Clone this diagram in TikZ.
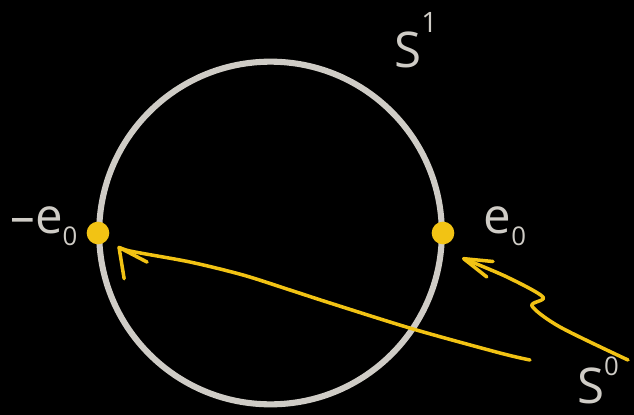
\documentclass[tikz,border=0pt]{standalone}
\usepackage{fontspec}
\setsansfont{Open Sans}
\usetikzlibrary{arrows.meta}
\definecolor{Chalk}{HTML}{CFCCC6}
\definecolor{Gold}{HTML}{F2C314}
\newcommand\subzero{\raisebox{-0.25em}{\fontsize{22}{22}\selectfont 0}}
\newcommand\supzero{\raisebox{0.55em}{\fontsize{22}{22}\selectfont 0}}
\newcommand\supone{\raisebox{0.7em}{\fontsize{24}{24}\selectfont 1}}

\begin{document}
\begin{tikzpicture}[
  x=0.03cm, y=-0.03cm,
  chalk/.style={draw=Chalk, line width=5.2pt},
  dot/.style={circle, fill=Gold, minimum size=0.68cm, inner sep=0pt},
  ray/.style={draw=Gold, line width=3pt, line cap=round, line join=round},
  lbl/.style={text=Chalk, font=\sffamily\fontsize{42}{42}\selectfont, inner sep=0pt}
]
\fill[black] (0,0) rectangle (634,415);

% the circle and its two points
\coordinate (ctr) at (270.5,233);
\draw[chalk] (ctr) circle[radius=5.14cm];
\node[dot] (negE) at (98,233) {};
\node[dot] (posE) at (443,233) {};

\node[lbl] (negLbl) at (44,226) {--e\subzero};
\node[lbl] (posLbl) at (505,226) {e\subzero};
\node[lbl] (circLbl) at (416,40) {S\supone};
\node[lbl, anchor=base] (sphLbl) at (598,403) {S\supzero};

% arrows from S^0 to the points
\coordinate (tailL) at (530,360);
\coordinate (headL) at (118,246);
\coordinate (tailR) at (628,360);
\coordinate (headR) at (462,258);
\draw[ray, -{Straight Barb[length=8.5mm, width=8.5mm, round]}]
  plot[smooth, tension=0.5] coordinates {(tailL) (500,353) (413,329) (330,303) (290,290) (243,275) (190,262) (130,251) (headL)};
\draw[ray, -{Straight Barb[length=8.5mm, width=5mm, round]}]
  plot[smooth, tension=0.5] coordinates {(tailR) (560,327) (532,306) (543,297) (507,277) (headR)};
\end{tikzpicture}
\end{document}
